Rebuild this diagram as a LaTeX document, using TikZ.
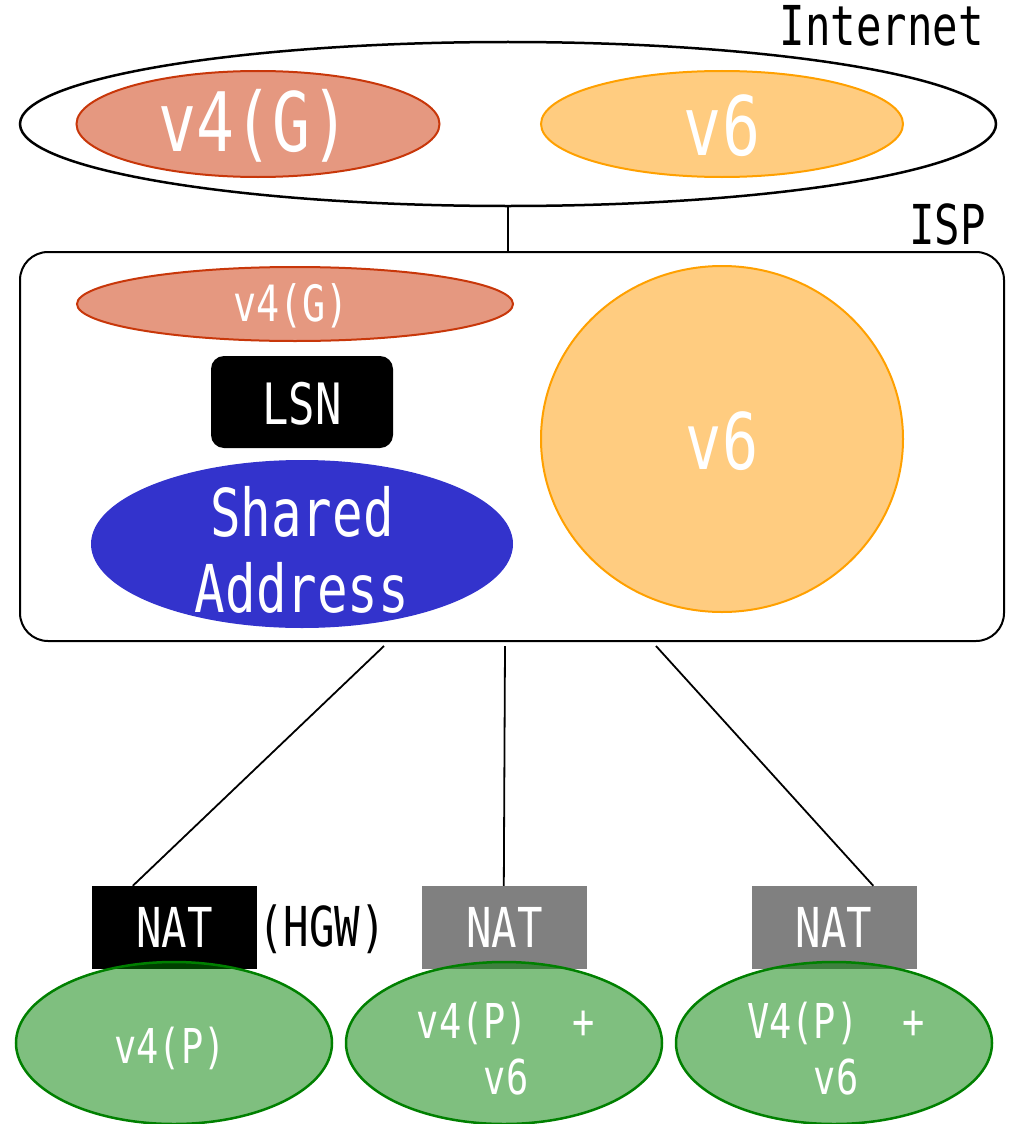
\documentclass[tikz,border=0pt]{standalone}
\usepackage{fontspec}
\setmainfont{DejaVu Sans Mono}[FakeStretch=0.77]
\usetikzlibrary{shapes.geometric,calc}

\definecolor{gfill}{RGB}{229,152,128}
\definecolor{gline}{RGB}{200,55,10}
\definecolor{sixfill}{RGB}{255,204,128}
\definecolor{sixline}{RGB}{255,160,0}
\definecolor{shared}{RGB}{51,51,204}
\definecolor{priv}{RGB}{0,128,0}
\definecolor{natgray}{RGB}{128,128,128}

\newcommand\fsz[2]{\fontsize{#1}{#2}\selectfont}

\begin{document}
\begin{tikzpicture}[x=1pt,y=-1pt,
  blob/.style={ellipse, inner sep=0pt, line width=2pt},
  lbl/.style={text=white, inner sep=0pt, align=center},
  natbox/.style={rectangle, inner sep=0pt, minimum width=165pt, minimum height=83pt},
  privnet/.style={blob, draw=priv, line width=2.5pt, fill=priv, fill opacity=0.5,
                  minimum width=316pt, minimum height=162pt},
  wire/.style={line width=1.8pt}]
\useasboundingbox (0,0) rectangle (1010,1124);

% ---- Internet ----
\node[blob, draw=black, line width=2.5pt, minimum width=976pt, minimum height=164pt] (inet) at (508,124) {};
\node[anchor=base east, inner sep=0pt, font=\fsz{55}{60}] (inetlbl) at (984,46) {Internet};
\node[blob, draw=gline, fill=gfill, minimum width=363pt, minimum height=106pt] (inetv4) at (258,124) {};
\node[lbl, font=\fsz{82}{90}] (inetv4t) at (254,126) {v4(G)};
\node[blob, draw=sixline, fill=sixfill, minimum width=362pt, minimum height=106pt] (inetv6) at (722,124) {};
\node[lbl, font=\fsz{82}{90}] (inetv6t) at (722,126) {v6};

% ---- ISP ----
\node[draw=black, line width=2pt, rounded corners=28pt, inner sep=0pt,
      minimum width=984pt, minimum height=389pt] (isp) at (512,446.5) {};
\node[anchor=base east, inner sep=0pt, font=\fsz{55}{60}] (isplbl) at (986,244) {ISP};
\draw[wire] (inet.south) -- (inet.south |- isp.north);

\node[blob, draw=gline, fill=gfill, minimum width=436pt, minimum height=74pt] (ispv4) at (295,304) {};
\node[lbl, font=\fsz{50}{55}] (ispv4t) at (291,306) {v4(G)};
\node[fill=black, rounded corners=13pt, inner sep=0pt, minimum width=182pt, minimum height=92pt] (lsn) at (302,402) {};
\node[lbl, font=\fsz{57}{62}] (lsnt) at (302,404) {LSN};
\node[blob, fill=shared, minimum width=422pt, minimum height=168pt] (shr) at (302,544) {};
\node[lbl, font=\fsz{66}{76}] (shrt) at (302,550) {Shared\\Address};
\node[blob, draw=sixline, fill=sixfill, minimum width=362pt, minimum height=346pt] (ispv6) at (722,439) {};
\node[lbl, font=\fsz{78}{85}] (ispv6t) at (722,441) {v6};

% ---- customer sites ----
\node[natbox, fill=black] (nat1) at (174.5,927.5) {};
\node[natbox, fill=natgray] (nat2) at (504.5,927.5) {};
\node[natbox, fill=natgray] (nat3) at (834,927.5) {};
\node[anchor=west, inner sep=0pt, font=\fsz{55}{60}] (hgw) at (258,929) {(HGW)};

\node[privnet] (home1) at (174,1043) {};
\node[privnet] (home2) at (504,1043) {};
\node[privnet] (home3) at (834,1043) {};

\node[lbl, font=\fsz{55}{60}] (nat1t) at (nat1) {NAT};
\node[lbl, font=\fsz{55}{60}] (nat2t) at (nat2) {NAT};
\node[lbl, font=\fsz{55}{60}] (nat3t) at (nat3) {NAT};

\node[lbl, font=\fsz{48}{56}] (home1t) at (170,1048) {v4(P)};
\node[lbl, font=\fsz{48}{56}] (home2t) at (506,1049) {v4(P)\ \ +\\v6};
\node[lbl, font=\fsz{48}{56}] (home3t) at (836,1049) {V4(P)\ \ +\\v6};

% ---- links from ISP down to the sites ----
\coordinate (up1) at ($(isp.south west)+(365,4)$);
\coordinate (up2) at ($(isp.south west)+(486,4)$);
\coordinate (up3) at ($(isp.south west)+(637,4)$);
\coordinate (dn1) at ($(nat1.north west)+(41,0)$);
\coordinate (dn2) at ($(nat2.north west)+(82,0)$);
\coordinate (dn3) at ($(nat3.north west)+(122,0)$);
\draw[wire] (up1) -- (dn1);
\draw[wire] (up2) -- (dn2);
\draw[wire] (up3) -- (dn3);
\end{tikzpicture}
\end{document}
